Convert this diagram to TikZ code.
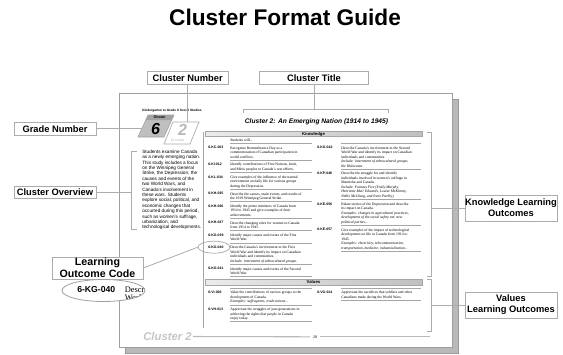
\documentclass[tikz,border=0pt]{standalone}
\usepackage{fontspec}
\setmainfont{Liberation Serif}
\setsansfont{Liberation Sans}
\usetikzlibrary{shapes.geometric}

\begin{document}
\begin{tikzpicture}[x=0.75pt,y=0.75pt,yscale=-1,xscale=1,
    lbl/.style={draw=gray!65,fill=white,line width=0.6pt,inner sep=0pt,align=center,
      font=\sffamily\bfseries\fontsize{7}{8.3}\selectfont},
    link/.style={draw=gray!65,line width=0.6pt},
    bracket/.style={draw=gray!65,line width=0.5pt},
    code/.style={anchor=west,inner sep=0pt,font=\sffamily\bfseries\fontsize{2.6}{3}\selectfont},
    desc/.style={anchor=north west,inner sep=0pt,align=left,font=\fontsize{2.8}{3.375}\selectfont},
    rule/.style={draw=gray!70,line width=0.35pt},
    bar/.style={draw=gray!70,line width=0.4pt,left color=gray!15,right color=gray!50}]
\useasboundingbox (0,0) rectangle (563,354);

% title
\node[font=\sffamily\bfseries\fontsize{17}{20}\selectfont] (title) at (285,17.5) {Cluster Format Guide};

% page and its shadow
\draw[gray!80,fill=gray!55,line width=0.4pt] (125,99) rectangle (458,353);
\draw[gray!75,fill=white,line width=0.6pt] (119,93) rectangle (452,347);
\node[anchor=west,inner sep=0pt,font=\sffamily\bfseries\fontsize{2.4}{3}\selectfont] (pagehead) at (142,111) {Kindergarten to Grade 8 Social Studies};

% grade and cluster tags
\draw[gray!75,fill=gray!50,line width=0.4pt] (148,115) -- (174,115) -- (164,137) -- (138,137) -- cycle;
\fill[gray!72] (148,115) -- (174,115) -- (171.7,120) -- (145.7,120) -- cycle;
\node[inner sep=0pt,font=\sffamily\bfseries\fontsize{3}{3}\selectfont] (gradeword) at (159.5,117.6) {G\fontsize{2.3}{3}\selectfont RADE};
\node[inner sep=0pt,font=\sffamily\bfseries\itshape\fontsize{12}{12}\selectfont] (gradenum) at (155.5,128.8) {6};
\draw[gray!65,fill=white,line width=0.5pt] (173,122) -- (199,122) -- (190,144) -- (164,144) -- cycle;
\node[inner sep=0pt,text=gray!55,font=\sffamily\bfseries\itshape\fontsize{12}{12}\selectfont] (clusternum) at (182.5,130) {2};
\node[inner sep=0pt,text=gray!80,font=\fontsize{2.8}{3}\selectfont] (clusterword) at (177.5,140.3) {C\fontsize{2.1}{3}\selectfont LUSTER};

\node[font=\sffamily\bfseries\itshape\fontsize{5}{6}\selectfont] (ctitle) at (316.5,122) {Cluster 2: An Emerging Nation (1914 to 1945)};

% overview
\node[anchor=north west,inner sep=0pt,align=left,font=\sffamily\fontsize{3.5}{4.05}\selectfont] (overview) at (142,149.6) {Students examine Canada\\as a newly emerging nation.\\This study includes a focus\\on the Winnipeg General\\Strike, the Depression, the\\causes and events of the\\two World Wars, and\\Canada's involvement in\\these wars. Students\\explore social, political, and\\economic changes that\\occurred during this period,\\such as women's suffrage,\\urbanization, and\\technological developments.};

% knowledge outcomes
\draw[gray!70,line width=0.4pt] (203,131.5) -- (203,328);
\draw[bar] (205,131.5) rectangle (422,136.5);
\node[inner sep=0pt,font=\sffamily\bfseries\fontsize{3.2}{3.5}\selectfont] (knowhead) at (313.5,134) {Knowledge};
\node[desc] (studwill) at (230,138.4) {Students will...};
\draw[rule] (230,143.3) -- (312,143.3);
\draw[rule] (341,143.3) -- (421,143.3);

\node[code] (kc003) at (208,147.8) {6-KC-003};
\node[desc] (kc003d) at (230,146.2) {Recognize Remembrance Day as a\\commemoration of Canadian participation in\\world conflicts.};
\draw[rule] (230,160.1) -- (312,160.1);
\node[code] (ki012) at (208,164.6) {6-KI-012};
\node[desc] (ki012d) at (230,163.0) {Identify contributions of First Nations, Inuit,\\and Métis peoples to Canada's war efforts.};
\draw[rule] (230,172.4) -- (312,172.4);
\node[code] (kl034) at (208,176.9) {6-KL-034};
\node[desc] (kl034d) at (230,175.3) {Give examples of the influence of the natural\\environment on daily life for various groups\\during the Depression.};
\draw[rule] (230,189.2) -- (312,189.2);
\node[code] (kh035) at (208,193.7) {6-KH-035};
\node[desc] (kh035d) at (230,192.1) {Describe the causes, main events, and results of\\the 1919 Winnipeg General Strike.};
\draw[rule] (230,201.5) -- (312,201.5);
\node[code] (kh036) at (208,206.0) {6-KH-036};
\node[desc] (kh036d) at (230,204.4) {Identify the prime ministers of Canada from\\1914 to 1945 and give examples of their\\achievements.};
\draw[rule] (230,218.3) -- (312,218.3);
\node[code] (kh037) at (208,222.8) {6-KH-037};
\node[desc] (kh037d) at (230,221.2) {Describe changing roles for women in Canada\\from 1914 to 1945.};
\draw[rule] (230,230.6) -- (312,230.6);
\node[code] (kg039) at (208,235.1) {6-KG-039};
\node[desc] (kg039d) at (230,233.5) {Identify major causes and events of the First\\World War.};
\draw[rule] (230,242.9) -- (312,242.9);
\node[code] (kg040) at (208,247.4) {6-KG-040};
\node[desc] (kg040d) at (230,245.8) {Describe Canada's involvement in the First\\World War and identify its impact on Canadian\\individuals and communities.\\\textit{Include: internment of ethnocultural groups.}};
\draw[rule] (230,264.2) -- (312,264.2);
\node[code] (kg041) at (208,268.7) {6-KG-041};
\node[desc] (kg041d) at (230,267.1) {Identify major causes and events of the Second\\World War.};
\draw[rule] (230,276.5) -- (312,276.5);

\node[code] (kg042) at (317,147.8) {6-KG-042};
\node[desc] (kg042d) at (341,146.2) {Describe Canada's involvement in the Second\\World War and identify its impact on Canadian\\individuals and communities.\\\textit{Include: internment of ethnocultural groups;}\\\textit{the Holocaust.}};
\draw[rule] (341,169.1) -- (421,169.1);
\node[code] (kp046) at (317,173.6) {6-KP-046};
\node[desc] (kp046d) at (341,172.0) {Describe the struggle for and identify\\individuals involved in women's suffrage in\\Manitoba and Canada.\\\textit{Include: Famous Five (Emily Murphy,}\\\textit{Henrietta Muir Edwards, Louise McKinney,}\\\textit{Nellie McClung, and Irene Parlby).}};
\draw[rule] (341,199.4) -- (421,199.4);
\node[code] (ke056) at (317,203.9) {6-KE-056};
\node[desc] (ke056d) at (341,202.3) {Relate stories of the Depression and describe\\its impact on Canada.\\\textit{Examples: changes in agricultural practices,}\\\textit{development of the social safety net, new}\\\textit{political parties...}};
\draw[rule] (341,225.2) -- (421,225.2);
\node[code] (ke057) at (317,229.7) {6-KE-057};
\node[desc] (ke057d) at (341,228.1) {Give examples of the impact of technological\\development on life in Canada from 1914 to\\1945.\\\textit{Examples: electricity, telecommunication,}\\\textit{transportation, medicine, industrialization...}};
\draw[rule] (341,251.0) -- (421,251.0);

% values outcomes
\draw[bar] (205,279) rectangle (422,285);
\node[inner sep=0pt,font=\sffamily\bfseries\fontsize{3.2}{3.5}\selectfont] (valhead) at (313.5,282) {Values};
\draw[rule] (230,288) -- (312,288);
\draw[rule] (341,288) -- (421,288);
\node[code] (vi006) at (208,292.5) {6-VI-006};
\node[desc] (vi006d) at (230,290.9) {Value the contributions of various groups to the\\development of Canada.\\\textit{Examples: suffragettes, trade unions...}};
\draw[rule] (230,304.8) -- (312,304.8);
\node[code] (vh013) at (208,309.3) {6-VH-013};
\node[desc] (vh013d) at (230,307.7) {Appreciate the struggles of past generations in\\achieving the rights that people in Canada\\enjoy today.};
\draw[rule] (230,321.6) -- (312,321.6);
\node[code] (vg014) at (317,292.5) {6-VG-014};
\node[desc] (vg014d) at (341,290.9) {Appreciate the sacrifices that soldiers and other\\Canadians made during the World Wars.};
\draw[rule] (341,300.3) -- (421,300.3);

% footer
\node[anchor=west,inner sep=0pt,text=gray!45,font=\sffamily\bfseries\itshape\fontsize{8.5}{9}\selectfont] (footer) at (143,336.5) {Cluster 2};
\node[inner sep=0pt,font=\fontsize{3}{3}\selectfont] (pageno) at (315,336.8) {28};
\draw[gray!55,line width=0.8pt] (footer.east) ++(1,0) -- (310,336.8);
\draw[gray!55,line width=0.8pt] (320,336.8) -- (430,336.8);

% labels
\node[lbl,minimum width=61.1pt,minimum height=10.2pt] (numlbl) at (187.7,77.9) {Cluster Number};
\node[lbl,minimum width=81.6pt,minimum height=10.2pt] (titlelbl) at (314,77.9) {Cluster Title};
\node[lbl,minimum width=61.5pt,minimum height=9.75pt] (gradelbl) at (55,128.8) {Grade Number};
\node[lbl,minimum width=61.5pt,minimum height=9.5pt] (overlbl) at (55,192.3) {Cluster Overview};
\node[lbl,minimum width=68.3pt,minimum height=16.5pt,font=\sffamily\bfseries\fontsize{8}{8.75}\selectfont] (codelbl) at (97.5,268) {Learning\\Outcome Code};
\node[lbl,minimum width=69pt,minimum height=19.5pt] (knowlbl) at (511,208) {Knowledge Learning\\Outcomes};
\node[lbl,minimum width=69pt,minimum height=19.5pt] (vallbl) at (511,305) {Values\\Learning Outcomes};

% connectors and brackets
\coordinate (clustertop) at (187.7,122);
\coordinate (gradeedge) at (141.6,128.8);
\coordinate (overbr) at (131.7,192.3);
\coordinate (titlebr) at (314,109);
\coordinate (knowbr) at (431.7,208);
\coordinate (valbr) at (431.7,305);
\draw[link] (numlbl.south) -- (clustertop);
\draw[link] (titlelbl.south) -- (titlebr);
\draw[link] (gradelbl.east) -- (gradeedge);
\draw[link] (overlbl.east) -- (overbr);
\draw[link] (knowbr) -- (knowlbl.west);
\draw[link] (valbr) -- (vallbl.west);
\draw[bracket] (243,113) -- (243,109) -- (388,109) -- (388,113);
\draw[bracket] (136.7,151) -- (131.7,151) -- (131.7,229.3) -- (136.7,229.3);
\draw[bracket] (426.7,132.3) -- (431.7,132.3) -- (431.7,276.7) -- (426.7,276.7);
\draw[bracket] (426.7,279.3) -- (431.7,279.3) -- (431.7,331.7) -- (426.7,331.7);

% outcome code callout
\node[ellipse,draw=gray!70,line width=0.5pt,inner sep=0pt,minimum width=24pt,minimum height=9pt] (kg040ring) at (214,247.2) {};
\draw[link] (codelbl.east) -- (kg040ring.west);
\fill[white] (103.5,290.5) ellipse [x radius=41.5,y radius=11];
\begin{scope}
  \clip (103.5,290.5) ellipse [x radius=41.5,y radius=11];
  \node[anchor=west,inner sep=0pt,font=\sffamily\bfseries\fontsize{6.5}{7}\selectfont] (zoomcode) at (77,290) {6-KG-040};
  \node[anchor=north west,inner sep=0pt,align=left,font=\fontsize{6.3}{6}\selectfont] (zoomdesc) at (124.5,286) {Describe Canada's\\World War};
\end{scope}
\node[ellipse,draw=gray!75,line width=0.6pt,inner sep=0pt,minimum width=62.25pt,minimum height=16.5pt] (zoomring) at (103.5,290.5) {};
\end{tikzpicture}
\end{document}
